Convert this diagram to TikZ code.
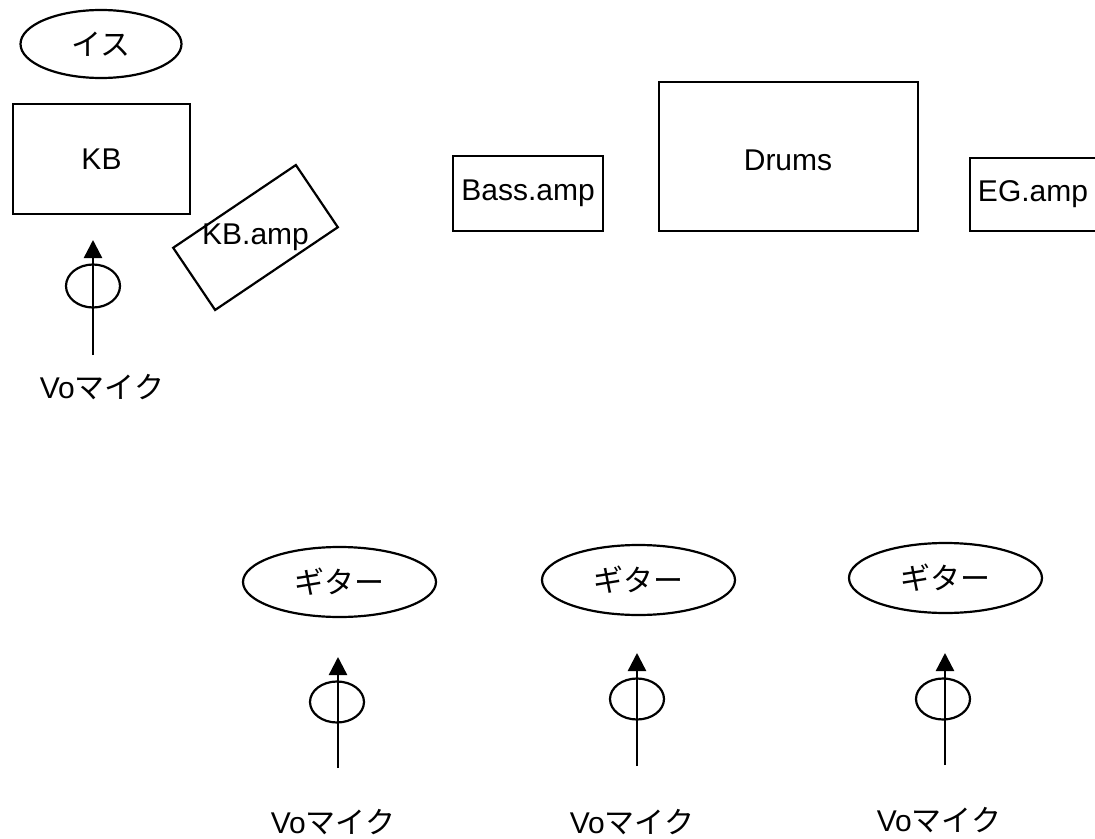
\documentclass[tikz,border=0pt]{standalone}
\usepackage{fontspec}
\setmainfont{Liberation Sans}
\newfontfamily\jp{Noto Sans CJK JP}
\usetikzlibrary{shapes.geometric,arrows.meta}

\tikzset{
    stagebox/.style={draw, line width=2.2bp, rectangle, inner sep=0pt},
    seat/.style={draw, line width=2.2bp, ellipse, inner sep=0pt, minimum width=193bp, minimum height=70bp},
    michead/.style={draw, line width=2.2bp, ellipse, inner sep=0pt, minimum width=54bp, minimum height=41bp},
    micstand/.style={-{Triangle[width=18bp,length=18bp]}, line width=2.4bp},
    tag/.style={inner sep=0pt}
}

\begin{document}
\begin{tikzpicture}[x=1bp, y=-1bp, font=\fontsize{30bp}{35bp}\selectfont]

    \useasboundingbox (0,0) rectangle (1095,839);

    %% Keyboard corner
    % Chair
    \node[seat, minimum width=161bp, minimum height=68bp] (chair) at (101,44) {\jp イス};

    % Keyboard
    \node[stagebox, minimum width=177bp, minimum height=110bp] (kb) at (101.5,159) {KB};

    % Keyboard amp
    \node[stagebox, rotate=34, minimum width=148bp, minimum height=75bp] (kbamp) at (255.5,237.5) {};
    \node[tag] (kbamplbl) at (kbamp.center) {KB.amp};

    % Vocal mic
    \coordinate (m0base) at (93,355);
    \coordinate (m0tip) at (93,240);
    \node[michead, minimum height=43bp] (m0head) at (93,286) {};
    \draw[micstand] (m0base) -- (m0tip);
    \node[tag] (m0lbl) at (102,387) {Vo{\jp マイク}};

    %% Back line
    \node[stagebox, minimum width=150bp, minimum height=75bp] (bassamp) at (528,193.5) {Bass.amp};
    \node[stagebox, minimum width=259bp, minimum height=149bp] (drums) at (788.5,156.5) {};
    \node[tag] (drumslbl) at (788,160) {Drums};
    \node[stagebox, minimum width=126bp, minimum height=73bp] (egamp) at (1033,194.5) {EG.amp};

    %% Front line
    % Guitars
    \node[seat] (gt1) at (339.5,582) {\jp ギター};
    \node[seat] (gt2) at (638.5,580) {\jp ギター};
    \node[seat] (gt3) at (945.5,578) {\jp ギター};

    % Vocal mics
    \coordinate (m1base) at (338,768);
    \coordinate (m1tip) at (338,657);
    \node[michead] (m1head) at (337,702) {};
    \draw[micstand] (m1base) -- (m1tip);
    \node[tag] (m1lbl) at (333,822) {Vo{\jp マイク}};

    \coordinate (m2base) at (637,766);
    \coordinate (m2tip) at (637,653);
    \node[michead] (m2head) at (637,699) {};
    \draw[micstand] (m2base) -- (m2tip);
    \node[tag] (m2lbl) at (632,822) {Vo{\jp マイク}};

    \coordinate (m3base) at (945,765);
    \coordinate (m3tip) at (945,653);
    \node[michead] (m3head) at (943,699) {};
    \draw[micstand] (m3base) -- (m3tip);
    \node[tag] (m3lbl) at (939,820) {Vo{\jp マイク}};

\end{tikzpicture}
\end{document}
